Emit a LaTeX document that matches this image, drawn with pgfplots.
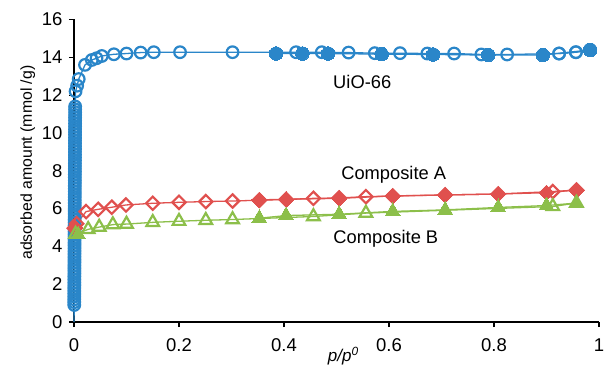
\documentclass[border=0pt]{standalone}
\usepackage{pgfplots}
\pgfplotsset{compat=1.18}
\usepackage{fontspec}
\setmainfont{Liberation Sans}
\definecolor{cblue}{RGB}{42,134,201}
\definecolor{cred}{RGB}{224,80,78}
\definecolor{cgreen}{RGB}{140,191,74}
\begin{document}
\begin{tikzpicture}
\useasboundingbox (-74bp,-48bp) rectangle (532bp,322bp);
\begin{axis}[
  scale only axis,
  width=525bp, height=302.5bp,
  xmin=0, xmax=1, ymin=0, ymax=16,
  xtick={0,0.2,0.4,0.6,0.8,1},
  ytick={0,2,4,6,8,10,12,14,16},
  axis x line*=bottom, axis y line*=left,
  axis line style={-, black, line width=1.1bp},
  tick align=outside,
  major tick length=5bp,
  tick style={black, line width=1.1bp},
  /pgf/number format/assume math mode=true,
  ticklabel style={font=\fontsize{18.5bp}{22bp}\selectfont},
  xticklabel style={yshift=-8bp},
  yticklabel style={xshift=-3bp},
  xlabel={\textit{p/p\textsuperscript{0}}},
  xlabel style={font=\fontsize{17bp}{20bp}\selectfont, at={(axis description cs:0.513,0)}, anchor=center, yshift=-34bp},
  ylabel={adsorbed amount (mmol /g)},
  ylabel style={font=\fontsize{15.8bp}{19bp}\selectfont, at={(ticklabel cs:0.527)}},
  clip=false,
]
% UiO-66 low-pressure line to origin
\addplot[cblue, line width=1.3bp, no marks] coordinates {(0,0) (0.0005,0.9)};
% UiO-66 adsorption
\addplot[cblue, line width=1.3bp, mark=o, mark size=5.8bp, mark options={line width=2.2bp}] coordinates {
(0.0005,0.9)(0.0005,1.05)(0.0005,1.2)(0.0006,1.35)(0.0006,1.5)(0.0006,1.65)(0.0006,1.8)(0.0007,1.95)(0.0007,2.1)(0.0007,2.25)(0.0007,2.4)(0.0008,2.55)(0.0008,2.7)(0.0008,2.85)(0.0008,3.0)(0.0009,3.15)(0.0009,3.3)(0.0009,3.45)(0.0009,3.6)(0.001,3.75)(0.001,3.9)(0.001,4.05)(0.001,4.2)(0.0011,4.35)(0.0011,4.5)(0.0011,4.65)(0.0011,4.8)(0.0012,4.95)(0.0012,5.1)(0.0012,5.25)(0.0012,5.4)(0.0013,5.55)(0.0013,5.7)(0.0013,5.85)(0.0013,6.0)(0.0014,6.15)(0.0014,6.3)(0.0014,6.45)(0.0014,6.6)(0.0015,6.75)(0.0015,6.9)(0.0015,7.05)(0.0015,7.2)(0.0016,7.35)(0.0016,7.5)(0.0016,7.65)(0.0016,7.8)(0.0017,7.95)(0.0017,8.1)(0.0017,8.25)(0.0017,8.4)(0.0018,8.55)(0.0018,8.7)(0.0018,8.85)(0.0018,9.0)(0.0019,9.15)(0.0019,9.3)(0.0019,9.45)(0.0019,9.6)(0.002,9.75)(0.002,9.9)(0.002,10.05)(0.002,10.2)(0.0021,10.35)(0.0021,10.5)(0.0021,10.65)(0.0021,10.8)(0.0022,10.95)(0.0022,11.1)(0.0022,11.25)(0.0022,11.4)
(0.003,12.2)(0.006,12.5)(0.009,12.85)(0.021,13.6)(0.034,13.86)(0.043,13.95)(0.053,14.07)(0.076,14.16)(0.10,14.2)(0.127,14.25)(0.152,14.27)(0.202,14.27)(0.302,14.27)(0.423,14.27)(0.472,14.27)(0.523,14.25)(0.573,14.22)(0.621,14.22)(0.673,14.2)(0.724,14.2)(0.776,14.15)(0.825,14.15)(0.924,14.2)(0.956,14.27)(0.983,14.39)
};
% UiO-66 desorption
\addplot[cblue, line width=1.3bp, mark=*, mark size=6.8bp, mark options={line width=0bp}] coordinates {
(0.983,14.39)(0.893,14.12)(0.789,14.12)(0.684,14.15)(0.586,14.17)(0.484,14.2)(0.435,14.2)(0.385,14.2)
};
\addplot[cblue, line width=1.3bp, mark=o, mark size=5.8bp, mark options={line width=2.2bp}] coordinates {(0.924,14.2)(0.956,14.27)(0.983,14.39)};
% Composite A adsorption
\addplot[cred, line width=1.3bp, mark=square, mark size=4.7bp, mark options={rotate=45, line width=2.2bp}] coordinates {
(0.0005,4.96)(0.005,5.2)(0.023,5.84)(0.046,5.96)(0.072,6.07)(0.099,6.19)(0.15,6.28)(0.20,6.33)(0.251,6.37)(0.302,6.4)(0.353,6.44)(0.404,6.48)(0.456,6.54)(0.505,6.56)(0.556,6.63)(0.607,6.66)(0.707,6.72)(0.808,6.77)(0.912,6.9)(0.957,6.98)
};
% Composite A desorption
\addplot[cred, line width=1.3bp, mark=square*, mark size=5.4bp, mark options={rotate=45, line width=0bp}] coordinates {
(0.957,6.98)(0.90,6.84)(0.808,6.77)(0.707,6.72)(0.607,6.67)(0.505,6.54)(0.404,6.49)(0.353,6.46)
};
\addplot[cred, only marks, mark=square*, mark size=5.4bp, mark options={rotate=45, line width=0bp}] coordinates {(0.002,5.0)};
% Composite B adsorption
\addplot[cgreen, line width=1.3bp, mark=triangle, mark size=7.3bp, mark options={line width=2.2bp}] coordinates {
(0.003,4.65)(0.027,4.9)(0.048,5.02)(0.074,5.15)(0.10,5.18)(0.15,5.27)(0.20,5.33)(0.251,5.38)(0.302,5.42)(0.456,5.58)(0.556,5.76)(0.912,6.11)(0.957,6.29)
};
% Composite B desorption
\addplot[cgreen, line width=1.3bp, mark=triangle*, mark size=8.5bp, mark options={line width=0bp}] coordinates {
(0.957,6.29)(0.90,6.16)(0.808,6.06)(0.707,5.93)(0.607,5.85)(0.505,5.7)(0.404,5.63)(0.353,5.49)
};
\addplot[cgreen, only marks, mark=triangle*, mark size=8.5bp, mark options={line width=0bp}] coordinates {(0.008,4.62)};
\node[font=\fontsize{18.3bp}{22bp}\selectfont] at (axis cs:0.549,12.7) {UiO-66};
\node[font=\fontsize{18.3bp}{22bp}\selectfont] at (axis cs:0.609,7.78) {Composite A};
\node[font=\fontsize{18.3bp}{22bp}\selectfont] at (axis cs:0.594,4.39) {Composite B};
\end{axis}
\end{tikzpicture}
\end{document}
